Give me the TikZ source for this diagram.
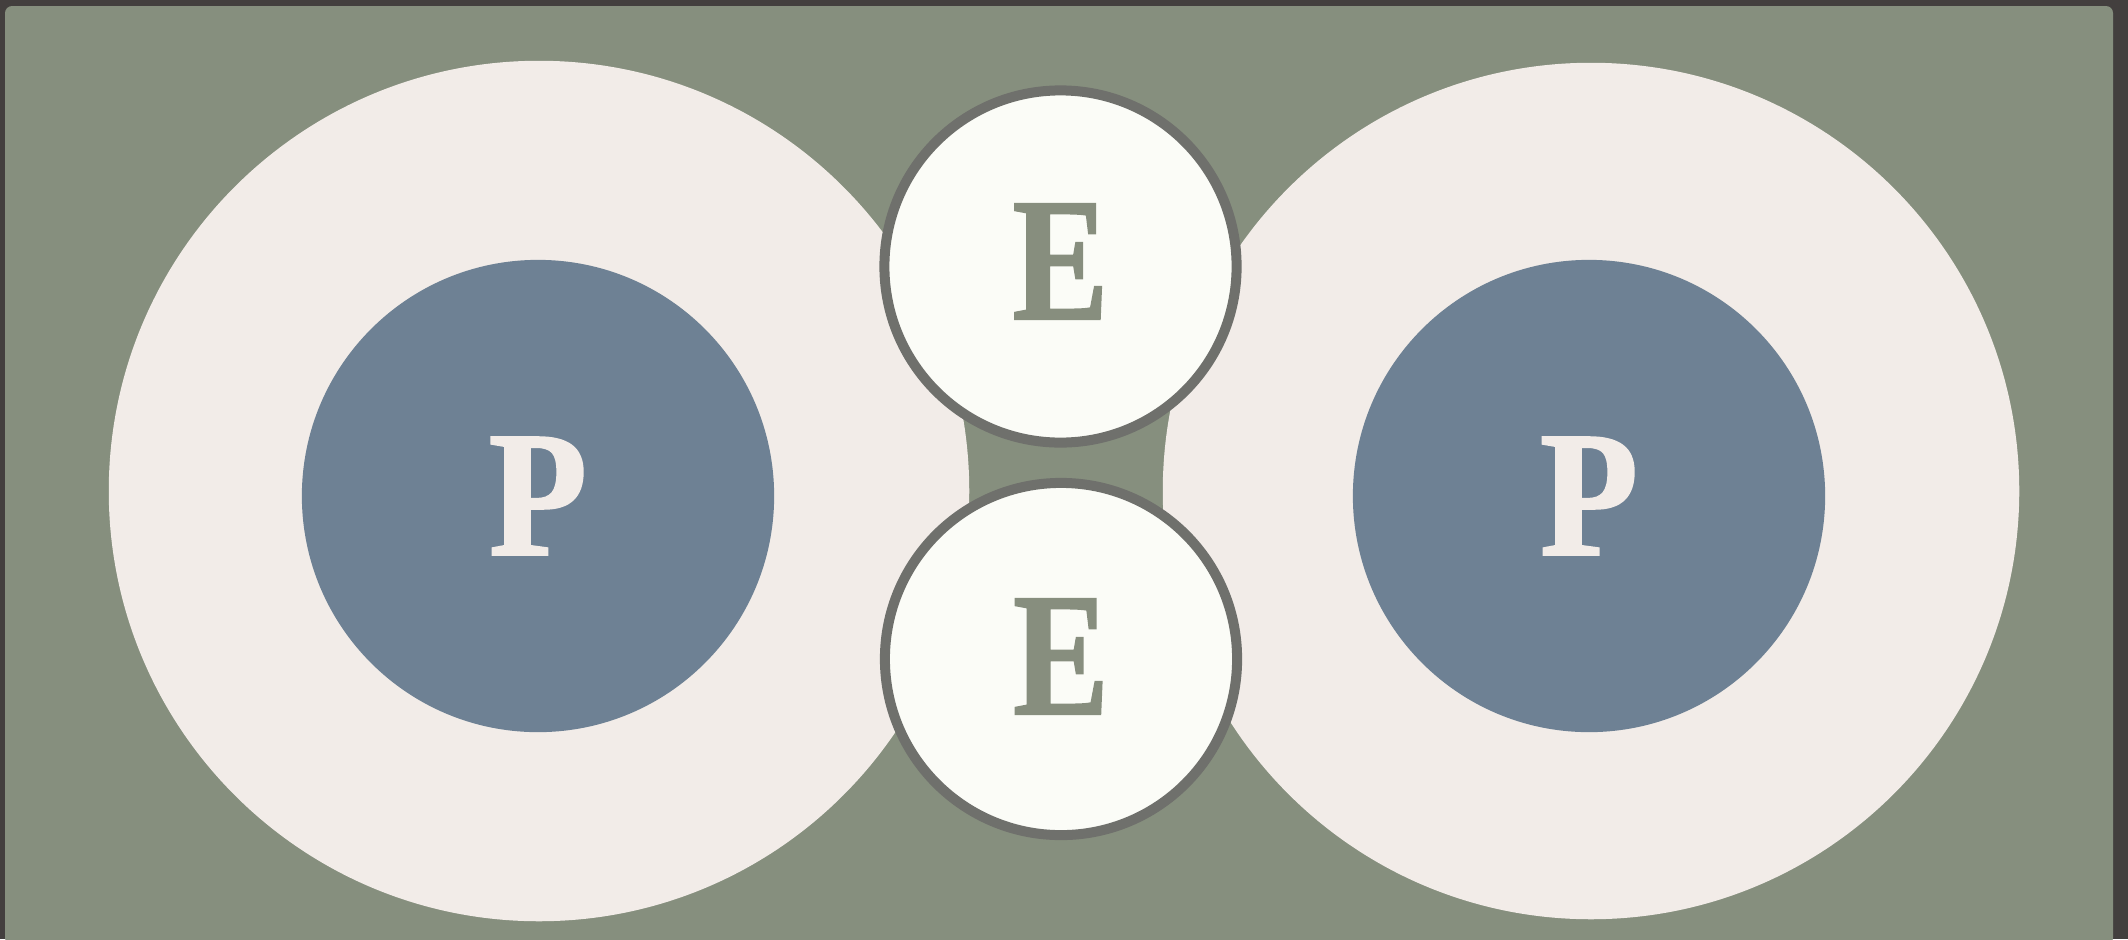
\documentclass[tikz,border=0pt]{standalone}
\usepackage{fontspec}
\newfontfamily\heavy{Liberation Serif}[UprightFont={* Bold}, FakeBold=1.2]
\definecolor{frame}{HTML}{433F3E}
\definecolor{sage}{HTML}{868F7E}
\definecolor{cream}{HTML}{F2ECE8}
\definecolor{slate}{HTML}{6E8194}
\definecolor{efill}{HTML}{FBFCF7}
\definecolor{erim}{HTML}{6F706C}
\definecolor{eletter}{HTML}{878E7E}
\tikzset{
  ring/.style={circle, inner sep=0pt, fill=cream, minimum size=8.6cm},
  core/.style={circle, inner sep=0pt, fill=slate, minimum size=4.72cm, text=cream,
    font=\heavy\fontsize{51}{51}\selectfont},
  ebox/.style={circle, inner sep=0pt, fill=efill, draw=erim, line width=0.1cm,
    minimum size=3.52cm, text=eletter, font=\heavy\fontsize{50}{50}\selectfont}
}
\begin{document}
\begin{tikzpicture}[x=0.01cm, y=-0.01cm]
\useasboundingbox (0,0) rectangle (2128,939);
\fill[frame] (0,0) rectangle (2128,939);
\fill[sage, rounded corners=2pt] (5,6) rectangle (2113,945);
\node[ring] (ringL) at (539,491) {};
\node[ring, minimum size=8.56cm] (ringR) at (1591,491) {};
\node[core] (pL) at (538,496) {\scalebox{0.9}[1]{P}};
\node[core] (pR) at (1589,496) {\scalebox{0.9}[1]{P}};
\node[ebox] (eT) at (1060.5,266.5) {\raisebox{0.1cm}{\scalebox{0.82}[1]{E}}};
\node[ebox] (eB) at (1061,659) {\raisebox{0.05cm}{\scalebox{0.82}[1]{E}}};
\end{tikzpicture}
\end{document}
